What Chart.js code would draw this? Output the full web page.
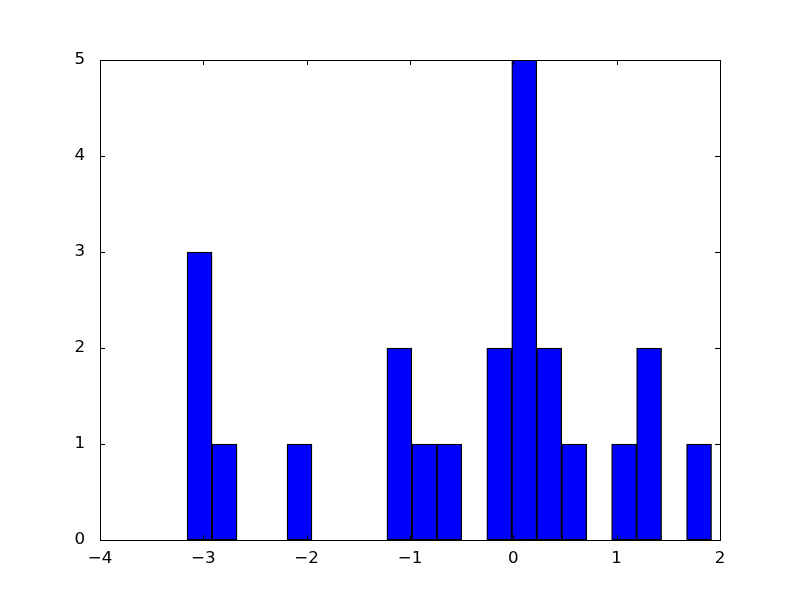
<!DOCTYPE html>
<html>
<head>
<meta charset="utf-8">
<script src="https://cdn.jsdelivr.net/npm/chart.js@4/dist/chart.umd.min.js"></script>
<style>
  html, body { margin: 0; padding: 0; background: #fff; }
  #wrap { width: 800px; height: 600px; }
</style>
</head>
<body>
<div id="wrap"><canvas id="chart" width="800" height="600"></canvas></div>
<script>
// Histogram bins (21 bins)
const binStart = -3.157;
const binWidth = 0.24167;
const counts = [3, 1, 0, 0, 1, 0, 0, 0, 2, 1, 1, 0, 2, 5, 2, 1, 0, 1, 2, 0, 1];
const xTicks = [-4, -3, -2, -1, 0, 1, 2];
const yTicks = [0, 1, 2, 3, 4, 5];

const binCenters = counts.map((_, i) => binStart + binWidth * (i + 0.5));

const tickFont = { family: 'DejaVu Sans', size: 16.7 };

function fmt(v) {
  return v < 0 ? '\u2212' + Math.abs(v) : String(v);
}

// Frame and inward ticks on all four sides, like matplotlib classic
const framePlugin = {
  id: 'frame',
  afterDatasetsDraw(chart) {
    const { ctx, chartArea: a, scales } = chart;
    const len = 5;
    ctx.save();
    ctx.strokeStyle = '#000';
    ctx.lineWidth = 1;
    ctx.beginPath();
    xTicks.forEach(v => {
      const x = Math.round(scales.x.getPixelForValue(v)) + 0.5;
      ctx.moveTo(x, a.bottom); ctx.lineTo(x, a.bottom - len);
      ctx.moveTo(x, a.top); ctx.lineTo(x, a.top + len);
    });
    yTicks.forEach(v => {
      const y = Math.round(scales.y.getPixelForValue(v)) + 0.5;
      ctx.moveTo(a.left, y); ctx.lineTo(a.left + len, y);
      ctx.moveTo(a.right, y); ctx.lineTo(a.right - len, y);
    });
    ctx.stroke();
    ctx.strokeRect(Math.round(a.left) + 0.5, Math.round(a.top) + 0.5,
      Math.round(a.right - a.left), Math.round(a.bottom - a.top));
    ctx.restore();
  }
};

new Chart(document.getElementById('chart'), {
  type: 'bar',
  data: {
    datasets: [{
      data: binCenters.map((x, i) => ({ x: x, y: counts[i] })),
      backgroundColor: '#0000ff',
      borderColor: '#000000',
      borderWidth: 1.3,
      borderSkipped: false,
      barPercentage: 1,
      categoryPercentage: 1
    }]
  },
  options: {
    responsive: false,
    animation: false,
    layout: { padding: { left: 0, right: 80, top: 60, bottom: 0 } },
    plugins: { legend: { display: false }, tooltip: { enabled: false } },
    scales: {
      x: {
        type: 'linear',
        min: -4,
        max: 2,
        offset: false,
        grid: { display: false, offset: false },
        border: { display: false },
        afterFit(scale) { scale.height = 60; },
        afterBuildTicks(scale) { scale.ticks = xTicks.map(v => ({ value: v })); },
        ticks: { color: '#000', font: tickFont, padding: 1, maxRotation: 0, callback: v => fmt(v) }
      },
      y: {
        min: 0,
        max: 5,
        grid: { display: false },
        border: { display: false },
        afterFit(scale) { scale.width = 100; },
        afterBuildTicks(scale) { scale.ticks = yTicks.map(v => ({ value: v })); },
        ticks: { color: '#000', font: tickFont, padding: 7, callback: v => fmt(v) }
      }
    }
  },
  plugins: [framePlugin]
});
</script>
</body>
</html>
